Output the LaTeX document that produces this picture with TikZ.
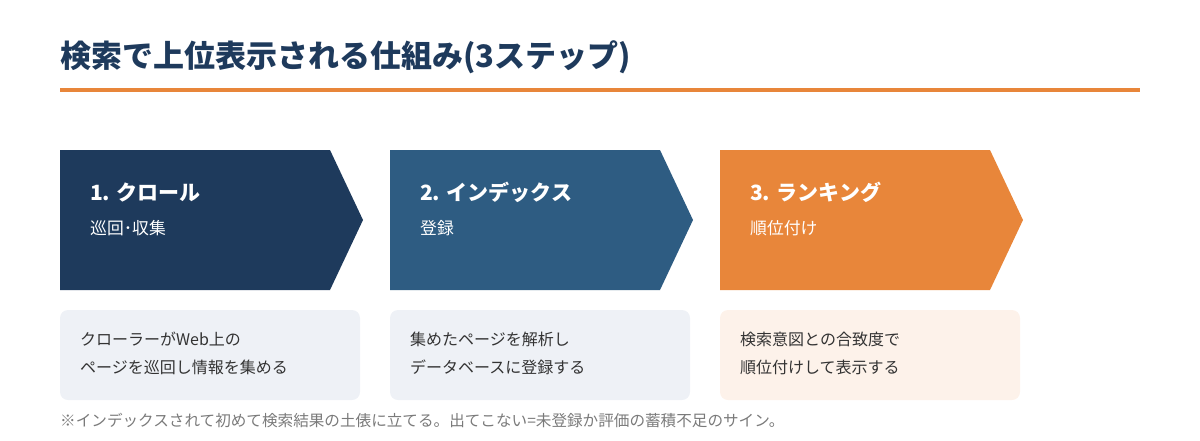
\documentclass[tikz,border=0pt]{standalone}
\usepackage{fontspec}
\setmainfont{Noto Sans CJK JP}
\usepackage{xcolor}
\usetikzlibrary{positioning}

\definecolor{navy}{HTML}{1E3A5C}
\definecolor{steel}{HTML}{2E5C82}
\definecolor{carrot}{HTML}{E8863A}
\definecolor{paleblue}{HTML}{EEF1F6}
\definecolor{paleorange}{HTML}{FDF2EA}
\definecolor{inkgray}{HTML}{333333}
\definecolor{notegray}{HTML}{7A7A7A}

\begin{document}
\begin{tikzpicture}[x=1pt,y=-1pt,
  every node/.style={inner sep=0pt,anchor=west},
  heading/.style={font=\bfseries\fontsize{31}{36}\selectfont,text=navy},
  steptitle/.style={font=\bfseries\fontsize{21}{26}\selectfont,text=white},
  stepsub/.style={font=\fontsize{16.8}{20}\selectfont,text=white},
  boxtext/.style={font=\fontsize{16}{28}\selectfont,text=inkgray,align=left},
  note/.style={font=\fontsize{15.6}{18}\selectfont,text=notegray}
]
\useasboundingbox (0,0) rectangle (1200,440);

% the heading
\node[heading] (title) at (60,57) {検索で上位表示される仕組み(3ステップ)};
\fill[carrot] (60,88) rectangle (1140,92);

% the chevrons
\foreach \i/\col/\head/\sub in {0/navy/1. クロール/巡回･収集,
                                1/steel/2. インデックス/登録,
                                2/carrot/3. ランキング/順位付け}
{
  \fill[\col] (60+330*\i,150) -- ++(270,0) -- ++(33,70) -- ++(-33,70) -- ++(-270,0) -- cycle;
  \node[steptitle] (step\i) at (90+330*\i,192) {\head};
  \node[stepsub] (sub\i) at (90+330*\i,228) {\sub};
}

% the boxes below
\foreach \i/\col/\txt in {0/paleblue/{クローラーがWeb上の\\ページを巡回し情報を集める},
                          1/paleblue/{集めたページを解析し\\データベースに登録する},
                          2/paleorange/{検索意図との合致度で\\順位付けして表示する}}
{
  \fill[\col,rounded corners=8pt] (60+330*\i,310) rectangle (360+330*\i,400);
  \node[boxtext] (box\i) at (80+330*\i,353) {\txt};
}

% the footnote
\node[note] (foot) at (60,421) {※インデックスされて初めて検索結果の土俵に立てる。出てこない=未登録か評価の蓄積不足のサイン。};

\end{tikzpicture}
\end{document}
